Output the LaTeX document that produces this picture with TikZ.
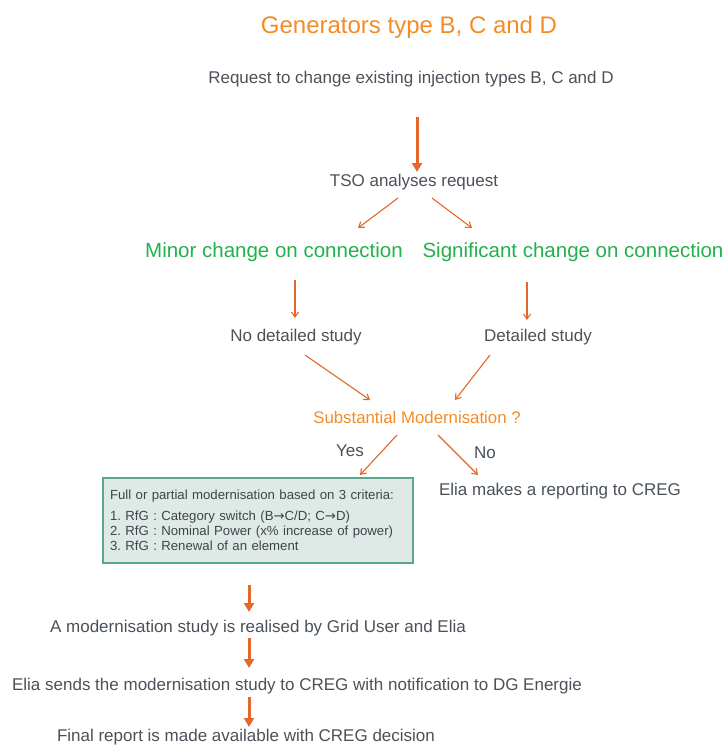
\documentclass[tikz,border=0pt]{standalone}
\usepackage{fontspec}
\setmainfont{Liberation Sans}
\newfontfamily\arrowfont{DejaVu Sans}
\usepackage{tikz}
\usetikzlibrary{arrows.meta}
\definecolor{eliaorange}{HTML}{F28C28}
\definecolor{arroworange}{HTML}{E2692A}
\definecolor{eliagreen}{HTML}{22B14C}
\definecolor{textgray}{HTML}{4A5159}
\definecolor{boxfill}{HTML}{DFE9E5}
\definecolor{boxline}{HTML}{5BA78E}
\tikzset{
   plain/.style={inner sep=0pt, text=textgray, font=\fontsize{17}{20}\selectfont},
   heading/.style={inner sep=0pt, text=eliaorange, font=\fontsize{24}{28}\selectfont},
   choice/.style={inner sep=0pt, text=eliagreen, font=\fontsize{20.5}{24}\selectfont},
   question/.style={inner sep=0pt, text=eliaorange, font=\fontsize{16.8}{20}\selectfont},
   criteria/.style={draw=boxline, line width=1.2pt, fill=boxfill, text=textgray!85!black,
      text width=296pt, inner xsep=7pt, minimum height=85pt, align=left,
      font=\fontsize{13.2}{15}\selectfont\frenchspacing},
   flow/.style={draw=arroworange, line width=1.1pt, -{Straight Barb[length=5pt,width=7pt]}},
   bigflow/.style={draw=arroworange, line width=3pt, -{Triangle[length=9pt,width=10pt]}},
    }
\begin{document}
\begin{tikzpicture}[x=1pt,y=1pt]
        \useasboundingbox (0,0) rectangle (724,-745);
        \node[heading] (title) at (409,-27) {Generators type B, C and D};
        \node[plain] (request) at (411,-79) {Request to change existing injection types B, C and D};
        \node[plain] (tso) at (414,-182) {TSO analyses request};
        \node[choice] (minor) at (274,-252) {Minor change on connection};
        \node[choice] (significant) at (573,-252) {Significant change on connection};
        \node[plain] (nodetail) at (296,-337) {No detailed study};
        \node[plain] (detail) at (538,-337) {Detailed study};
        \node[question] (subst) at (417,-417) {Substantial Modernisation ?};
        \node[plain] (yes) at (350,-451) {Yes};
        \node[plain] (no) at (485,-453) {No};
        \node[criteria] (crit) at (258,-520.5) {Full or partial modernisation based on 3 criteria:\\[6pt]
            1. RfG : Category switch (B{\arrowfont→}C/D; C{\arrowfont→}D)\\
            2. RfG : Nominal Power (x\% increase of power)\\
            3. RfG : Renewal of an element};
        \node[plain] (report) at (560,-491) {Elia makes a reporting to CREG};
        \node[plain] (study) at (258,-628) {A modernisation study is realised by Grid User and Elia};
        \node[plain] (sends) at (297,-686) {Elia sends the modernisation study to CREG with notification to DG Energie};
        \node[plain] (final) at (246,-737) {Final report is made available with CREG decision};
        \draw[bigflow] ([shift={(6,-38)}]request.center) -- ([shift={(3,10)}]tso.center);
        \draw[flow] ([shift={(-16,-16)}]tso.center) -- ([shift={(84,24)}]minor.center);
        \draw[flow] ([shift={(18,-16)}]tso.center) -- ([shift={(-101,24)}]significant.center);
        \draw[flow] ([shift={(21,-28)}]minor.center) -- ([shift={(-1,19)}]nodetail.center);
        \draw[flow] ([shift={(-46,-30)}]significant.center) -- ([shift={(-11,17)}]detail.center);
        \draw[flow] ([shift={(9,-18)}]nodetail.center) -- ([shift={(-47,17)}]subst.center);
        \draw[flow] ([shift={(-48,-18)}]detail.center) -- ([shift={(38,17)}]subst.center);
        \draw[flow] ([shift={(-20,-18)}]subst.center) -- ([shift={(102,45.5)}]crit.center);
        \draw[flow] ([shift={(21,-18)}]subst.center) -- ([shift={(-82,16)}]report.center);
        \draw[bigflow] ([shift={(-9,-64.5)}]crit.center) -- ([shift={(-9,16)}]study.center);
        \draw[bigflow] ([shift={(-9,-10)}]study.center) -- ([shift={(-48,18)}]sends.center);
        \draw[bigflow] ([shift={(-48,-11)}]sends.center) -- ([shift={(3,10)}]final.center);
\end{tikzpicture}
\end{document}
